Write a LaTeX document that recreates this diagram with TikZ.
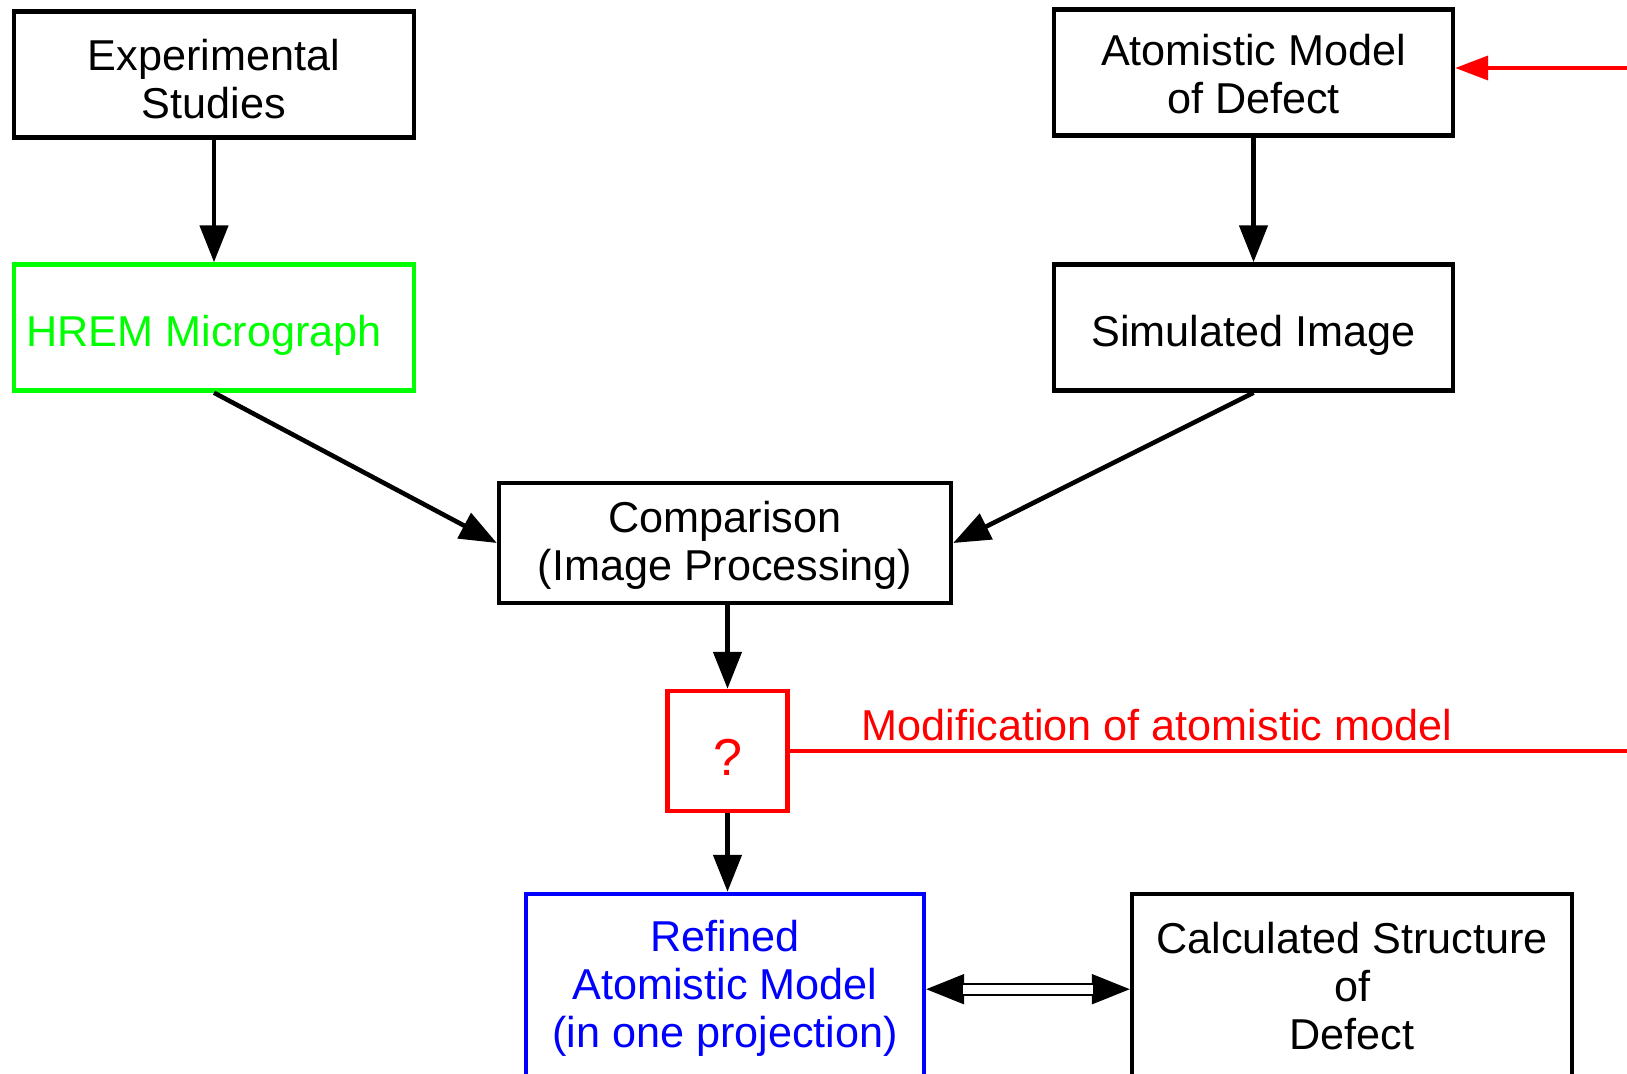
\documentclass[tikz,border=0pt]{standalone}
\usepackage{fontspec}
\setmainfont{Liberation Sans}
\usetikzlibrary{arrows.meta}
\definecolor{hremgreen}{RGB}{0,255,0}

\begin{document}
\begin{tikzpicture}[x=0.5pt,y=-0.5pt,
  caixa/.style={draw,line width=2.2pt,inner sep=0pt,align=center,
    font=\fontsize{21.6pt}{24pt}\selectfont},
  linha/.style={text height=19.5pt,text depth=0pt},
  seta/.style={line width=2.3pt,-{Triangle[length=18.5pt,width=14pt]}},
  retorno/.style={red,line width=1.9pt,-{Triangle[length=16.5pt,width=12pt]}},
  ponta/.style={line width=1pt,{Triangle[length=19pt,width=15pt]}-{Triangle[length=19pt,width=15pt]}},
  duplo/.style={double,double distance=4.5pt,line width=1pt,shorten <=18.5pt,shorten >=18.5pt}]
\useasboundingbox (0,0) rectangle (1627,1074);
\clip (0,0) rectangle (1627,1074);

% Caixas
\node[caixa,minimum width=200pt,minimum height=63pt] (exp) at (214,74.5) {\rule{0pt}{20pt}Experimental\\Studies};
\node[caixa,linha,hremgreen,minimum width=200pt,minimum height=63pt] (hrem) at (214,327.5) {\hspace*{-10pt}HREM Micrograph};
\node[caixa,minimum width=199.5pt,minimum height=63pt] (atom) at (1253.5,72.5) {\rule{0pt}{17pt}Atomistic Model\\of Defect};
\node[caixa,linha,minimum width=199.5pt,minimum height=63pt] (sim) at (1253.5,327.5) {Simulated Image};
\node[caixa,minimum width=226pt,minimum height=60pt] (comp) at (725,543) {\rule{0pt}{18pt}Comparison\\(Image Processing)};
\node[caixa,red,minimum width=60pt,minimum height=60pt,font=\fontsize{26pt}{28pt}\selectfont,
  text height=24pt,text depth=0pt] (quest) at (727.5,751) {?};
\node[caixa,blue,minimum width=199pt,minimum height=92pt] (ref) at (725,986) {\rule{0pt}{18pt}Refined\\Atomistic Model\\(in one projection)};
\node[caixa,minimum width=220pt,minimum height=92pt] (calc) at (1352,986) {Calculated Structure\\of\\Defect};

% Setas
\draw[seta] (exp.south) -- (hrem.north);
\draw[seta] (atom.south) -- (sim.north);
\draw[seta] (hrem.south) -- (comp.west);
\draw[seta] (sim.south) -- (comp.east);
\draw[seta] (quest.north |- comp.south) -- (quest.north);
\draw[seta] (quest.south) -- (quest.south |- ref.north);

% Modificacao
\coordinate (fbk) at (1700,0);
\draw[retorno] (quest.east) -- (quest.east -| fbk) |- ([yshift=2.25pt]atom.east);
\node[red,anchor=base west,inner sep=0pt,font=\fontsize{21.6pt}{24pt}\selectfont] (modlbl) at (861,740) {Modification of atomistic model};

% Seta dupla
\draw[ponta] ([yshift=-1.6pt]ref.east) -- ([yshift=-1.6pt]calc.west);
\draw[duplo] ([yshift=-1.6pt]ref.east) -- ([yshift=-1.6pt]calc.west);
\end{tikzpicture}
\end{document}
